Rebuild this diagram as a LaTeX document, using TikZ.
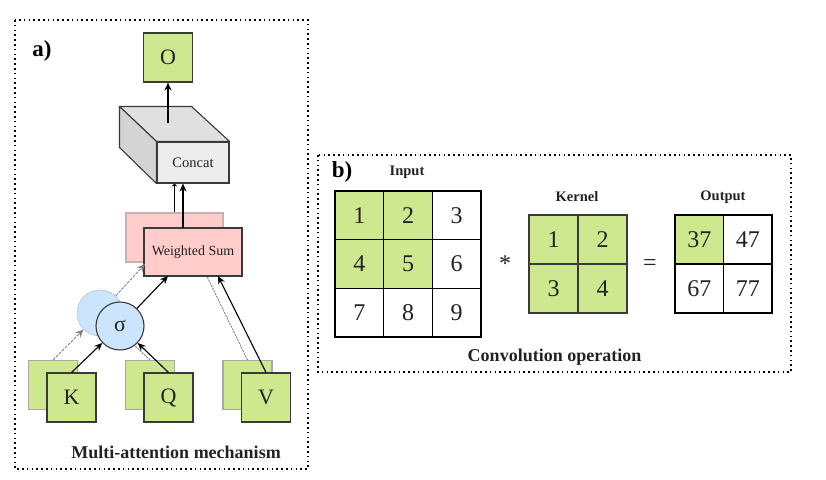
\documentclass[tikz,border=0pt]{standalone}
\usepackage{fontspec}
\setmainfont{Liberation Serif}
\usetikzlibrary{arrows.meta}
\definecolor{gfill}{HTML}{CDE88F}
\definecolor{pfill}{HTML}{FFCCCC}
\definecolor{bfill}{HTML}{CCE5FF}
\definecolor{edge}{HTML}{3A3A3A}
\definecolor{lightedge}{HTML}{A8A8A8}
\definecolor{pinkedge}{HTML}{CBB0B0}
\definecolor{txt}{HTML}{222222}
\begin{document}
\begin{tikzpicture}[x=1pt,y=-1pt,
  frame/.style={draw=black, line width=1.6pt, dash pattern=on 1.6pt off 3.2pt},
  sqf/.style={draw=edge, line width=1.1pt, fill=gfill, minimum width=49pt, minimum height=49pt, inner sep=0pt, text=txt, font=\fontsize{22}{22}\selectfont},
  sqb/.style={draw=lightedge, line width=1.1pt, fill=gfill, minimum width=49pt, minimum height=49pt, inner sep=0pt},
  wsf/.style={draw=edge, line width=1.1pt, fill=pfill, minimum width=98pt, minimum height=48pt, inner sep=0pt, text=txt, font=\fontsize{14}{14}\selectfont},
  wsb/.style={draw=pinkedge, line width=1.1pt, fill=pfill, minimum width=97pt, minimum height=49pt, inner sep=0pt},
  circf/.style={circle, draw=edge, line width=1.1pt, fill=bfill, minimum size=48pt, inner sep=0pt, text=txt, font=\fontsize{22}{22}\selectfont},
  circb/.style={circle, draw=lightedge, line width=0.8pt, densely dotted, fill=bfill, minimum size=46pt, inner sep=0pt},
  arr/.style={draw=black, line width=1.1pt, -{Stealth[length=8pt,width=7pt]}},
  sarr/.style={draw=black, line width=1.1pt, -{Stealth[length=3pt,width=6pt]}},
  garr/.style={draw=gray, line width=0.9pt, dash pattern=on 3pt off 1.2pt, -{Stealth[length=8pt,width=7pt]}},
  gline/.style={draw=gray, line width=0.9pt, dash pattern=on 2pt off 1pt},
  cell/.style={draw=black, line width=1.2pt, minimum width=48.67pt, minimum height=48.67pt, inner sep=0pt, text=txt, font=\fontsize{24}{24}\selectfont},
  kcell/.style={draw=edge, line width=1.2pt, fill=gfill, minimum width=49pt, minimum height=49pt, inner sep=0pt, text=txt, font=\fontsize{24}{24}\selectfont},
  ocell/.style={draw=black, line width=1.2pt, minimum width=48.5pt, minimum height=49pt, inner sep=0pt, text=txt, font=\fontsize{24}{24}\selectfont},
  lbl/.style={text=txt, font=\bfseries\fontsize{14.5}{14.5}\selectfont},
  title/.style={text=txt, font=\bfseries\fontsize{18}{18}\selectfont},
  tag/.style={text=black, font=\bfseries\fontsize{23}{23}\selectfont}
]
\useasboundingbox (0,0) rectangle (826,479);

% ---------- panel a ----------
\draw[frame] (15,20) rectangle (308,469);
\node[tag] (taga) at (42,51) {a)};

\node[sqf] (O) at (168,57.5) {O};

% back layer
\node[sqb] (Kb) at (53,385) {};
\node[sqb] (Qb) at (150,385) {};
\node[sqb] (Vb) at (247.5,385) {};
\node[wsb] (WSb) at (174.5,237.5) {};
\node[circb] (Cb) at (100,313) {};

\coordinate (vbend) at (200,262);
\coordinate (qbend) at (118,330);
\draw[garr] (Kb.north) -- (Cb);
\draw[gline] (Qb.north) -- (qbend);
\draw[gline] (Vb.north) -- (vbend);

% concat cuboid
\node[draw=edge, line width=1.1pt, fill=black!7, minimum width=72pt, minimum height=41pt, inner sep=0pt, text=txt, font=\fontsize{14.5}{14.5}\selectfont] (concat) at (193,162.5) {Concat};
\draw[draw=edge, line width=1.1pt, fill=black!12, line join=round] (concat.north west) -- ++(-37,-35) -- ++(72,0) -- (concat.north east) -- cycle;
\draw[draw=edge, line width=1.1pt, fill=black!17, line join=round] (concat.north west) -- ++(-37,-35) -- ++(0,41) -- (concat.south west) -- cycle;

\draw[sarr] (WSb.north) -- (WSb.north |- concat.south);

% front layer
\node[sqf] (Kf) at (71.5,397.5) {K};
\node[sqf] (Qf) at (168.5,397.5) {Q};
\node[sqf] (Vf) at (266,397.5) {V};
\node[wsf] (WSf) at (193,252) {Weighted Sum};
\node[circf] (Cf) at (120,326) {σ};

\coordinate (wsbin) at (145,264);
\coordinate (wsfin1) at (168,276);
\coordinate (wsfin2) at (218,276);
\coordinate (wsfout) at (183,228);
\coordinate (ctop) at (168,123);

\draw[garr] (Cb) -- (wsbin);
\draw[arr] (Kf.north) -- (Cf);
\draw[arr] (Qf.north) -- (Cf);
\draw[arr] (Cf) -- (wsfin1);
\draw[arr] (Vf.north) -- (wsfin2);
\draw[arr] (wsfout) -- (wsfout |- concat.south);
\draw[arr] (ctop) -- (O.south);

\node[title] (ta) at (176,452) {Multi-attention mechanism};

% ---------- panel b ----------
\draw[frame] (318,155) rectangle (791,372);
\node[tag] (tagb) at (342,172) {b)};

\node[lbl] (linput) at (407,172) {Input};
\node[cell, fill=gfill] (i1) at (359.33,215.33) {1};
\node[cell, fill=gfill] (i2) at (408,215.33) {2};
\node[cell] (i3) at (456.67,215.33) {3};
\node[cell, fill=gfill] (i4) at (359.33,264) {4};
\node[cell, fill=gfill] (i5) at (408,264) {5};
\node[cell] (i6) at (456.67,264) {6};
\node[cell] (i7) at (359.33,312.67) {7};
\node[cell] (i8) at (408,312.67) {8};
\node[cell] (i9) at (456.67,312.67) {9};

\node[text=txt, font=\fontsize{24}{24}\selectfont] (star) at (505,264) {*};

\node[lbl] (lkernel) at (577,197) {Kernel};
\node[kcell] (k1) at (553.5,239.5) {1};
\node[kcell] (k2) at (602.5,239.5) {2};
\node[kcell] (k3) at (553.5,288.5) {3};
\node[kcell] (k4) at (602.5,288.5) {4};

\node[text=txt, font=\fontsize{24}{24}\selectfont] (eq) at (650,265) {=};

\node[lbl] (loutput) at (723,197) {Output};
\node[ocell, fill=gfill] (o1) at (699.25,239.5) {37};
\node[ocell] (o2) at (747.75,239.5) {47};
\node[ocell] (o3) at (699.25,288.5) {67};
\node[ocell] (o4) at (747.75,288.5) {77};

\node[title] (tb) at (554.5,357) {Convolution operation};
\end{tikzpicture}
\end{document}
